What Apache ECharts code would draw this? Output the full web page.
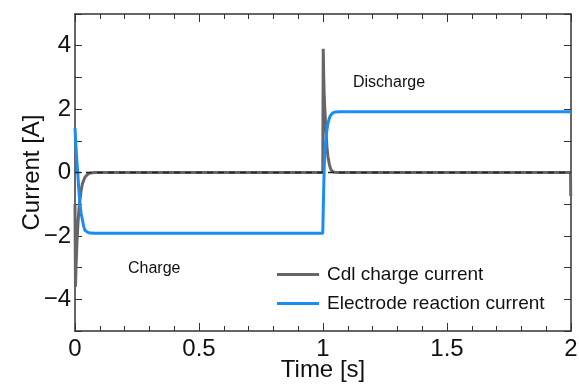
<!DOCTYPE html>
<html>
<head>
<meta charset="utf-8">
<script src="https://cdn.jsdelivr.net/npm/echarts@6/dist/echarts.min.js"></script>
<style>
html, body { margin: 0; padding: 0; background: #fff; }
#main { width: 579px; height: 385px; }
</style>
</head>
<body>
<div id="main"></div>
<script>
// Cdl charge current (gray)
var cdlTime = [0, 0.002, 0.004, 0.008, 0.012, 0.016, 0.02, 0.025, 0.03, 0.04, 0.05, 0.06, 0.08, 0.5, 0.999,
    1.0, 1.001, 1.003, 1.005, 1.008, 1.012, 1.016, 1.02, 1.025, 1.03, 1.035, 1.045, 1.06, 1.5, 1.998, 1.999, 2.0];
var cdlValue = [-1.0, -3.6, -3.0, -2.2, -1.6, -1.15, -0.85, -0.55, -0.35, -0.15, -0.06, -0.02, 0, 0, 0,
    0, 3.9, 3.0, 2.4, 1.9, 1.3, 0.8, 0.5, 0.28, 0.13, 0.05, 0.01, 0, 0, 0, -0.75, -0.75];

// Electrode reaction current (blue)
var rxnTime = [0, 0.004, 0.008, 0.011, 0.015, 0.02, 0.025, 0.03, 0.035, 0.04, 0.05, 0.06, 0.08, 0.5, 0.999,
    1.0, 1.002, 1.005, 1.008, 1.012, 1.016, 1.02, 1.025, 1.03, 1.04, 1.05, 1.07, 1.5, 2.0];
var rxnValue = [1.4, 0.8, 0.3, 0, -0.5, -1.0, -1.3, -1.5, -1.7, -1.82, -1.88, -1.91, -1.92, -1.92, -1.92,
    -1.9, -0.8, 0.2, 0.7, 1.1, 1.35, 1.55, 1.7, 1.8, 1.88, 1.91, 1.92, 1.92, 1.92];

var zeroLine = [[0, 0], [2, 0]];

function pairs(t, v) {
    var out = [];
    for (var i = 0; i < t.length; i++) out.push([t[i], v[i]]);
    return out;
}

var font = 'Liberation Sans, Arial, sans-serif';
var axisColor = '#333';

var myChart = echarts.init(document.getElementById('main'));
myChart.setOption({
    animation: false,
    textStyle: { fontFamily: font },
    grid: { left: 75, right: 8, top: 14, bottom: 54, outerBoundsMode: 'none' },
    legend: {
        data: ['Cdl charge current', 'Electrode reaction current'],
        orient: 'vertical',
        left: 277,
        top: 265,
        padding: 0,
        icon: 'rect',
        itemWidth: 42,
        itemHeight: 3,
        itemGap: 10,
        textStyle: { fontSize: 19, color: '#111', fontFamily: font, padding: [0, 0, 0, 3] }
    },
    xAxis: [{
        type: 'value', min: 0, max: 2, interval: 0.5,
        name: 'Time [s]', nameLocation: 'middle', nameGap: 27, nameMoveOverlap: false,
        nameTextStyle: { fontSize: 24, color: '#111', fontFamily: font },
        axisLine: { onZero: false, lineStyle: { color: axisColor, width: 1.5 } },
        axisTick: { inside: true, length: 8, lineStyle: { color: axisColor } },
        minorTick: { show: true, splitNumber: 5, length: 5, lineStyle: { color: axisColor } },
        axisLabel: { fontSize: 24, color: '#111', margin: 6, fontFamily: font },
        splitLine: { show: false }
    }, {
        type: 'value', min: 0, max: 2, interval: 0.5, position: 'top',
        axisLine: { onZero: false, lineStyle: { color: axisColor, width: 1.5 } },
        axisTick: { inside: true, length: 8, lineStyle: { color: axisColor } },
        minorTick: { show: true, splitNumber: 5, length: 5, lineStyle: { color: axisColor } },
        axisLabel: { show: false },
        splitLine: { show: false }
    }],
    yAxis: [{
        type: 'value', min: -5, max: 5, interval: 1,
        name: 'Current [A]', nameLocation: 'middle', nameGap: 31, nameMoveOverlap: false,
        nameTextStyle: { fontSize: 24, color: '#111', fontFamily: font },
        axisLine: { onZero: false, lineStyle: { color: axisColor, width: 1.5 } },
        axisTick: { inside: true, length: 7, lineStyle: { color: axisColor } },
        axisLabel: {
            fontSize: 24, color: '#111', margin: 4, fontFamily: font,
            formatter: function (v) {
                if (v % 2 !== 0) return '';
                return String(v).replace('-', '\u2212');
            }
        },
        splitLine: { show: false }
    }, {
        type: 'value', min: -5, max: 5, interval: 1, position: 'right',
        axisLine: { onZero: false, lineStyle: { color: axisColor, width: 1.5 } },
        axisTick: { inside: true, length: 7, lineStyle: { color: axisColor } },
        axisLabel: { show: false },
        splitLine: { show: false }
    }],
    graphic: [
        { type: 'text', left: 353, top: 75, style: { text: 'Discharge', fontSize: 16, fill: '#111', fontFamily: font } },
        { type: 'text', left: 128, top: 261, style: { text: 'Charge', fontSize: 16, fill: '#111', fontFamily: font } }
    ],
    series: [{
        name: 'Cdl charge current',
        type: 'line',
        data: pairs(cdlTime, cdlValue),
        symbol: 'none',
        z: 2,
        lineStyle: { color: '#666', width: 3 },
        itemStyle: { color: '#666' }
    }, {
        name: 'Electrode reaction current',
        type: 'line',
        data: pairs(rxnTime, rxnValue),
        symbol: 'none',
        z: 3,
        lineStyle: { color: '#1c8cf5', width: 3 },
        itemStyle: { color: '#1c8cf5' }
    }, {
        name: 'zero',
        type: 'line',
        data: zeroLine,
        symbol: 'none',
        z: 4,
        silent: true,
        lineStyle: { color: '#222', width: 1.3, type: [6, 5] }
    }]
});
</script>
</body>
</html>
